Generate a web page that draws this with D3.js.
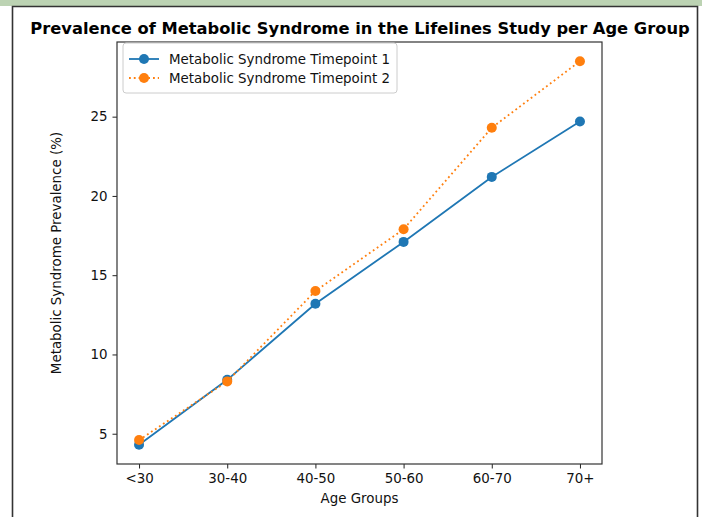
<!DOCTYPE html>
<html>
<head>
<meta charset="utf-8">
<script src="https://cdn.jsdelivr.net/npm/d3@7"></script>
<style>
    body { margin: 0; background: #fff; }
    svg { display: block; font-family: "DejaVu Sans", sans-serif; }
</style>
</head>
<body>
<div id="chart"></div>
<script>
// age groups and prevalence (%) per timepoint
const ageGroups = ["<30", "30-40", "40-50", "50-60", "60-70", "70+"];
const timepoint1 = [4.3, 8.4, 13.2, 17.1, 21.2, 24.7];
const timepoint2 = [4.6, 8.3, 14.0, 17.9, 24.3, 28.5];
const seriesNames = ["Metabolic Syndrome Timepoint 1", "Metabolic Syndrome Timepoint 2"];
const yTicks = [5, 10, 15, 20, 25];

const width = 702, height = 517;
const margin = {top: 42, right: 100, bottom: 53, left: 117};
const colors = ["#1f77b4", "#ff7f0e"];
const fontSize = "13.4px";

let svg = d3.select("#chart").append("svg")
    .attr("width", width)
    .attr("height", height);

// green strip + framed panel
svg.append("rect")
    .attr("x", 0).attr("y", 0)
    .attr("width", width).attr("height", 6)
    .attr("fill", "#bcd3b3");
svg.append("path")
    .attr("d", `M12.5,${height} V6.5 H697.5 V${height}`)
    .attr("fill", "none")
    .attr("stroke", "#333")
    .attr("stroke-width", 1.6);

let plotW = width - margin.left - margin.right,
    plotH = height - margin.top - margin.bottom;

let x = d3.scalePoint()
    .domain(ageGroups)
    .range([margin.left, margin.left + plotW])
    .padding(0.25);

let allVals = timepoint1.concat(timepoint2);
let ymin = d3.min(allVals), ymax = d3.max(allVals);
let pad = (ymax - ymin) * 0.05;
let y = d3.scaleLinear()
    .domain([ymin - pad, ymax + pad])
    .range([margin.top + plotH, margin.top]);

// axes
let xAxis = svg.append("g")
    .attr("transform", `translate(0,${margin.top + plotH})`)
    .call(d3.axisBottom(x).tickSize(4.5).tickPadding(5));
let yAxis = svg.append("g")
    .attr("transform", `translate(${margin.left},0)`)
    .call(d3.axisLeft(y).tickValues(yTicks).tickSize(4.5).tickPadding(5));

[xAxis, yAxis].forEach(g => {
    g.select(".domain").remove();
    g.selectAll(".tick line").attr("stroke", "#222").attr("stroke-width", 1);
    g.selectAll(".tick text")
        .attr("fill", "#111")
        .style("font-size", fontSize)
        .style("font-family", "DejaVu Sans, sans-serif");
});

svg.append("rect")
    .attr("x", margin.left).attr("y", margin.top)
    .attr("width", plotW).attr("height", plotH)
    .attr("fill", "none")
    .attr("stroke", "#333")
    .attr("stroke-width", 1.2);

// lines
let line = d3.line()
    .x((d, i) => x(ageGroups[i]))
    .y(d => y(d));

[timepoint1, timepoint2].forEach((vals, s) => {
    svg.append("path")
        .datum(vals)
        .attr("d", line)
        .attr("fill", "none")
        .attr("stroke", colors[s])
        .attr("stroke-width", 1.8)
        .attr("stroke-dasharray", s === 1 ? "1.8,3" : null);
    svg.append("g").selectAll("circle")
        .data(vals)
        .enter().append("circle")
        .attr("cx", (d, i) => x(ageGroups[i]))
        .attr("cy", d => y(d))
        .attr("r", 5)
        .attr("fill", colors[s]);
});

// title and axis labels
svg.append("text")
    .attr("x", 360).attr("y", 34)
    .attr("text-anchor", "middle")
    .style("font-size", "16.3px")
    .style("font-weight", "bold")
    .attr("fill", "#000")
    .text("Prevalence of Metabolic Syndrome in the Lifelines Study per Age Group");

svg.append("text")
    .attr("x", margin.left + plotW / 2).attr("y", 503)
    .attr("text-anchor", "middle")
    .style("font-size", fontSize)
    .attr("fill", "#111")
    .text("Age Groups");

svg.append("text")
    .attr("transform", `translate(61,${margin.top + plotH / 2}) rotate(-90)`)
    .attr("text-anchor", "middle")
    .style("font-size", fontSize)
    .attr("fill", "#111")
    .text("Metabolic Syndrome Prevalence (%)");

// legend
let legend = svg.append("g").attr("transform", "translate(123,43)");
legend.append("rect")
    .attr("width", 274).attr("height", 50)
    .attr("rx", 3)
    .attr("fill", "#fff")
    .attr("fill-opacity", 0.8)
    .attr("stroke", "#ccc");
seriesNames.forEach((name, s) => {
    let row = legend.append("g").attr("transform", `translate(0,${16 + s * 19})`);
    row.append("line")
        .attr("x1", 6).attr("x2", 36)
        .attr("stroke", colors[s])
        .attr("stroke-width", 1.8)
        .attr("stroke-dasharray", s === 1 ? "1.8,3" : null);
    row.append("circle")
        .attr("cx", 21).attr("r", 5)
        .attr("fill", colors[s]);
    row.append("text")
        .attr("x", 46).attr("dy", "0.35em")
        .style("font-size", fontSize)
        .attr("fill", "#111")
        .text(name);
});
</script>
</body>
</html>
